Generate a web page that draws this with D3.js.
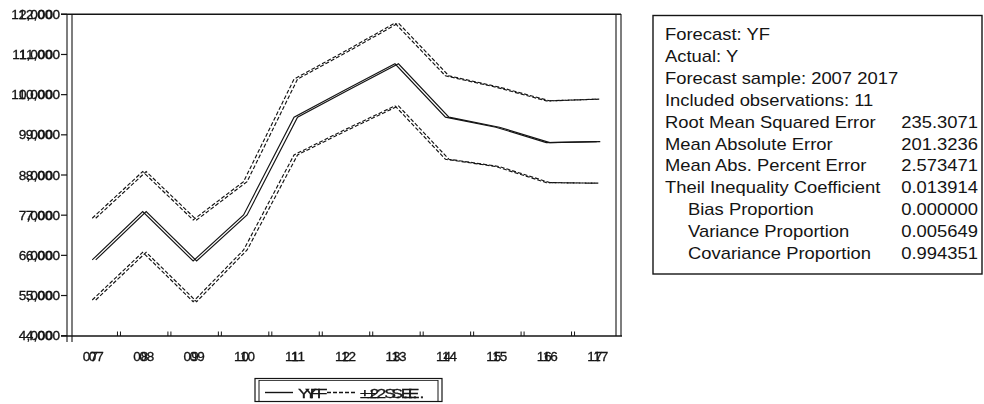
<!DOCTYPE html>
<html>
<head>
<meta charset="utf-8">
<script src="https://cdn.jsdelivr.net/npm/d3@7.9.0/dist/d3.min.js"></script>
<style>
  html, body { margin: 0; padding: 0; background: #fff; }
  svg { display: block; font-family: "Liberation Sans", Arial, sans-serif; }
</style>
</head>
<body>
<div id="chart"></div>
<script>
// ---------- DATA ----------
const years = [2007, 2008, 2009, 2010, 2011, 2012, 2013, 2014, 2015, 2016, 2017];
const yearLabels = ['07', '08', '09', '10', '11', '12', '13', '14', '15', '16', '17'];
const yf = [5886, 7088, 5860, 7006, 9440, 10110, 10767, 9440, 9190, 8807, 8832];
const upper = [6924, 8085, 6882, 7836, 10386, 11074, 11781, 10468, 10187, 9845, 9888];
const lower = [4889, 6077, 4847, 6134, 8501, 9123, 9721, 8393, 8210, 7811, 7796];
const yTicks = [4000, 5000, 6000, 7000, 8000, 9000, 10000, 11000, 12000];

const statLabels = [
  'Forecast: YF',
  'Actual: Y',
  'Forecast sample: 2007 2017',
  'Included observations: 11',
  'Root Mean Squared Error',
  'Mean Absolute Error',
  'Mean Abs. Percent Error',
  'Theil Inequality Coefficient',
  'Bias Proportion',
  'Variance Proportion',
  'Covariance Proportion',
];
const statValues = ['', '', '', '', '235.3071', '201.3236', '2.573471', '0.013914', '0.000000', '0.005649', '0.994351'];
const statIndent = [0, 0, 0, 0, 0, 0, 0, 0, 1, 1, 1];

const legendItems = [
  { label: 'YF', dash: null },
  { label: '±2 S.E.', dash: '4,2' },
];

// ---------- SETUP ----------
const width = 984;
const height = 404;
const ink = '#141414';
const ghost = 3.5; // the scan is double printed

const svg = d3.select('#chart').append('svg')
  .attr('width', width)
  .attr('height', height);

// ghost filters: one text element, drawn twice by the filter
const defs = svg.append('defs');
function ghostFilter(id, dx) {
  const f = defs.append('filter').attr('id', id)
    .attr('x', '-60%').attr('y', '-20%').attr('width', '220%').attr('height', '140%');
  f.append('feOffset').attr('in', 'SourceGraphic').attr('dx', dx).attr('dy', 0).attr('result', 'off');
  const m = f.append('feMerge');
  m.append('feMergeNode').attr('in', 'off');
  m.append('feMergeNode').attr('in', 'SourceGraphic');
}
ghostFilter('ghostL', -7);
ghostFilter('ghostR', 5.5);

const x = d3.scaleBand().domain(years).range([67, 622]).padding(0);
const cx = (d) => x(d) + x.bandwidth() / 2;
const y = d3.scaleLinear().domain([4000, 12000]).range([335.7, 14.3]);

function scanText(g, px, py, str, size, anchor, filter, sx = 1.15) {
  return g.append('text')
    .attr('transform', `translate(${px},${py}) scale(${sx},1)`)
    .attr('text-anchor', anchor)
    .attr('font-size', size)
    .attr('fill', ink)
    .attr('stroke', ink)
    .attr('stroke-width', 0.3)
    .attr('filter', filter ? `url(#${filter})` : null)
    .text(str);
}

// ---------- FRAME & AXES ----------
const frame = svg.append('g').attr('stroke', ink).attr('fill', 'none');
frame.append('line').attr('x1', 61).attr('x2', 621).attr('y1', 14.3).attr('y2', 14.3).attr('stroke-width', 1.4);
frame.append('line').attr('x1', 61).attr('x2', 622).attr('y1', 336).attr('y2', 336).attr('stroke-width', 1.6);
[67, 72].forEach((xx) =>
  frame.append('line').attr('x1', xx).attr('x2', xx).attr('y1', 14).attr('y2', 342).attr('stroke-width', 1.1));
[616, 621].forEach((xx) =>
  frame.append('line').attr('x1', xx).attr('x2', xx).attr('y1', 14).attr('y2', 336).attr('stroke-width', 1.1));

// y ticks + labels
const yAxis = svg.append('g');
yTicks.forEach((t) => {
  yAxis.append('line')
    .attr('x1', 61).attr('x2', 67)
    .attr('y1', y(t)).attr('y2', y(t))
    .attr('stroke', ink).attr('stroke-width', 1.2);
  scanText(yAxis, 60, y(t) + 4.5, d3.format(',')(t), 13, 'end', 'ghostL', 1.05);
});

// x ticks between years + labels
const xAxis = svg.append('g');
years.slice(1).forEach((yr) => {
  [0, 3].forEach((off) =>
    xAxis.append('line')
      .attr('x1', x(yr) + off).attr('x2', x(yr) + off)
      .attr('y1', 336).attr('y2', 331.5)
      .attr('stroke', ink).attr('stroke-width', 1));
});
years.forEach((yr, i) => {
  scanText(xAxis, cx(yr) - 2, 361, yearLabels[i], 13.5, 'middle', 'ghostR', 1.0);
});

// ---------- SERIES ----------
const line = d3.line().x((d) => cx(d.year)).y((d) => y(d.v));
const toPts = (arr) => arr.map((v, i) => ({ year: years[i], v }));

const series = [
  { data: upper, dash: '4,2' },
  { data: yf, dash: null },
  { data: lower, dash: '4,2' },
];
const lines = svg.append('g').attr('fill', 'none');
series.forEach((s) => {
  [0, ghost].forEach((off) => {
    lines.append('path')
      .attr('d', line(toPts(s.data)))
      .attr('transform', `translate(${off},0)`)
      .attr('stroke', ink)
      .attr('stroke-width', 1.15)
      .attr('stroke-dasharray', s.dash);
  });
});

// ---------- LEGEND ----------
const lg = svg.append('g');
lg.append('rect').attr('x', 255).attr('y', 378.5).attr('width', 187).attr('height', 23)
  .attr('fill', 'none').attr('stroke', ink).attr('stroke-width', 1.2);
[259, 438].forEach((xx) =>
  lg.append('line').attr('x1', xx).attr('x2', xx).attr('y1', 380).attr('y2', 401)
    .attr('stroke', ink).attr('stroke-width', 1));
lg.append('line').attr('x1', 259).attr('x2', 438).attr('y1', 380.5).attr('y2', 380.5)
  .attr('stroke', ink).attr('stroke-width', 0.8);

const legX = [265, 327];
legendItems.forEach((it, i) => {
  lg.append('line')
    .attr('x1', legX[i]).attr('x2', legX[i] + 28)
    .attr('y1', 392.5).attr('y2', 392.5)
    .attr('stroke', ink).attr('stroke-width', 1.4)
    .attr('stroke-dasharray', it.dash);
  scanText(lg, legX[i] + 33, 397.5, it.label, 13.5, 'start', 'ghostR', 1.3);
});

// ---------- STATS BOX ----------
const st = svg.append('g');
st.append('rect').attr('x', 653).attr('y', 15.5).attr('width', 329).attr('height', 258.5)
  .attr('fill', 'none').attr('stroke', ink).attr('stroke-width', 1.4);

statLabels.forEach((lab, i) => {
  const by = 40 + i * 21.9;
  st.append('text')
    .attr('transform', `translate(${statIndent[i] ? 688 : 665},${by}) scale(1.15,1)`)
    .attr('font-size', 16).attr('fill', ink)
    .text(lab);
  if (statValues[i]) {
    st.append('text')
      .attr('transform', `translate(978,${by}) scale(1.15,1)`)
      .attr('text-anchor', 'end')
      .attr('font-size', 16).attr('fill', ink)
      .text(statValues[i]);
  }
});
</script>
</body>
</html>
